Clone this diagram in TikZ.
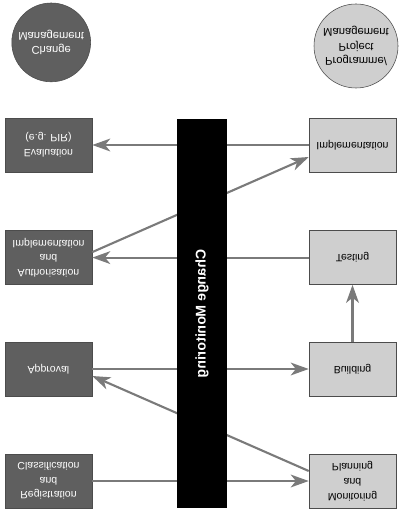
\documentclass[tikz,border=0pt]{standalone}
\usepackage{fontspec}
\setmainfont{Liberation Sans}
\usetikzlibrary{arrows.meta,calc}
\definecolor{darkbox}{HTML}{5F5F5F}
\definecolor{lightbox}{HTML}{CFCFCF}
\definecolor{flowline}{HTML}{7A7A7A}
\tikzset{
  chgbox/.style={draw=black!70, fill=darkbox, text=white, minimum width=2.175cm, minimum height=1.35cm, inner sep=0pt, align=center, font=\fontsize{7.5}{10.5}\selectfont},
  prjbox/.style={chgbox, fill=lightbox, text=black},
  chgcirc/.style={circle, draw=black!70, fill=darkbox, text=white, minimum size=1.97cm, inner sep=0pt, align=center, font=\fontsize{8}{10.5}\selectfont},
  prjcirc/.style={chgcirc, fill=lightbox, text=black, minimum size=2.1cm},
  monbar/.style={fill=black, text=white, minimum width=9.725cm, minimum height=1.25cm, inner sep=0pt, font=\fontsize{10}{12}\selectfont\bfseries},
  flow/.style={draw=flowline, line width=1.5pt, -{Stealth[length=4.5mm, width=3.2mm, inset=1.3mm]}}
}
\begin{document}
\begin{tikzpicture}[yscale=-1, transform shape]
      \useasboundingbox (0,0) rectangle (10,12.8);

      % the two management sides
      \node[chgcirc] (chgmgmt) at (1.28, 1.06) {Change\\Management};
      \node[prjcirc] (prjmgmt) at (8.9, 1.15) {Programme/\\Project\\Management};

      \node[chgbox] (eval) at (1.2125, 3.625) {Evaluation\\(e.g. PIR)};
      \node[chgbox] (auth) at (1.2125, 6.44) {Authorisation\\and\\Implementation};
      \node[chgbox] (appr) at (1.2125, 9.225) {Approval};
      \node[chgbox] (reg) at (1.2125, 12.025) {Registration\\and\\Classification};

      \node[prjbox] (impl) at (8.8125, 3.625) {Implementation};
      \node[prjbox] (test) at (8.8125, 6.44) {Testing};
      \node[prjbox] (bld) at (8.8125, 9.225) {Building};
      \node[prjbox] (mon) at (8.8125, 12.025) {Monitoring\\and\\Planning};

      % flows across the monitoring bar
      \path[flow] (impl.west) -- (eval.east);
      \path[flow] (test.west) -- (auth.east);
      \path[flow] (appr.east) -- (bld.west);
      \path[flow] (reg.east) -- (mon.west);
      \path[flow] ($(auth.east)+(0,-0.1375)$) -- ($(impl.west)+(0,0.3)$);
      \path[flow] ($(mon.west)+(0,-0.25)$) -- ($(appr.east)+(0,0.175)$);
      \path[flow] (bld.south) -- (test.north);

      \node[monbar, rotate=90] (chgmon) at (5.05, 7.84) {Change Monitoring};
    \end{tikzpicture}
\end{document}
